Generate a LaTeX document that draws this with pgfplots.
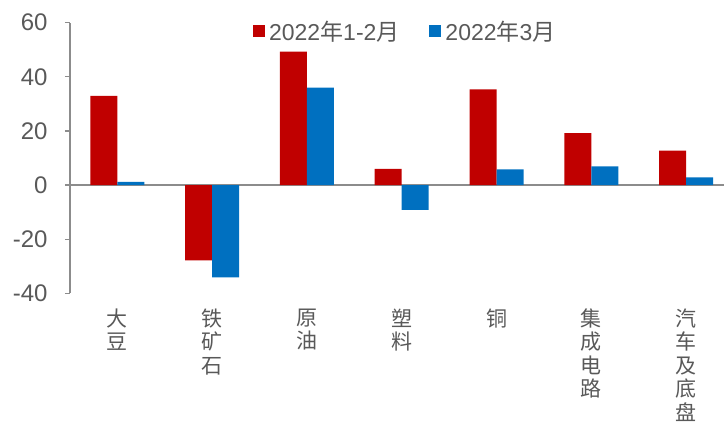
\documentclass[border=0pt]{standalone}
\usepackage{pgfplots}
\pgfplotsset{compat=1.18}
\usepackage{fontspec}
\setmainfont{Liberation Sans}
\newfontfamily\cjk{Noto Sans CJK SC}
\definecolor{cred}{HTML}{C00000}
\definecolor{cblue}{HTML}{0070C0}
\definecolor{txt}{HTML}{595959}
\definecolor{axl}{HTML}{8C8C8C}
\begin{document}
\begin{tikzpicture}
\begin{axis}[
  name=ax,
  scale only axis,
  width=654pt, height=270.6pt,
  xmin=-0.5, xmax=6.4,
  ymin=-40, ymax=60,
  ybar=0pt, bar width=27pt,
  axis x line=middle,
  axis y line=left,
  axis line style={-, draw=axl, line width=1.3pt},
  ytick={-40,-20,0,20,40,60},
  yticklabels={-40,-20,0,20,40,60},
  ytick style={draw=axl, line width=1.3pt},
  tick align=outside,
  major tick length=5pt,
  yticklabel style={font=\fontsize{24}{26}\selectfont, text=txt, xshift=-14pt},
  xtick={0,1,2,3,4,5,6},
  xticklabels={{\cjk 大\\\cjk 豆},{\cjk 铁\\\cjk 矿\\\cjk 石},{\cjk 原\\\cjk 油},{\cjk 塑\\\cjk 料},{\cjk 铜},{\cjk 集\\\cjk 成\\\cjk 电\\\cjk 路},{\cjk 汽\\\cjk 车\\\cjk 及\\\cjk 底\\\cjk 盘}},
  x tick style={draw=none},
  xticklabel style={font=\fontsize{21}{23.5}\selectfont, text=txt, align=center, anchor=north, yshift=-115pt},
  extra x ticks={0.5,1.5,2.5,3.5,4.5,5.5},
  extra x tick labels={},
  extra x tick style={tick style={draw=axl, line width=1.3pt}, tick align=outside, major tick length=5pt},
  legend style={at={(0.2796,0.969)}, anchor=west, draw=none, fill=none,
    font=\fontsize{23}{25}\selectfont, text=txt, inner sep=0pt,
    /tikz/every odd column/.append style={column sep=2pt},
    /tikz/every even column/.append style={column sep=28pt}},
  legend columns=4,
  legend image code/.code={\fill[#1] (0pt,-6pt) rectangle (12pt,6pt);},
  clip=false,
]
\addplot[fill=cred, draw=none] coordinates {(0,33.0) (1,-27.8) (2,49.3) (3,6.0) (4,35.4) (5,19.2) (6,12.7)};
\addplot[fill=cblue, draw=none] coordinates {(0,1.2) (1,-34.1) (2,36.0) (3,-9.2) (4,5.8) (5,6.9) (6,2.8)};
\legend{2022{\cjk 年}1-2{\cjk 月},2022{\cjk 年}3{\cjk 月}}
\end{axis}
\pgfresetboundingbox
\path[use as bounding box] ([xshift=-70pt,yshift=-132.7pt]ax.south west) rectangle ([yshift=22.7pt]ax.north east);
\end{tikzpicture}
\end{document}
